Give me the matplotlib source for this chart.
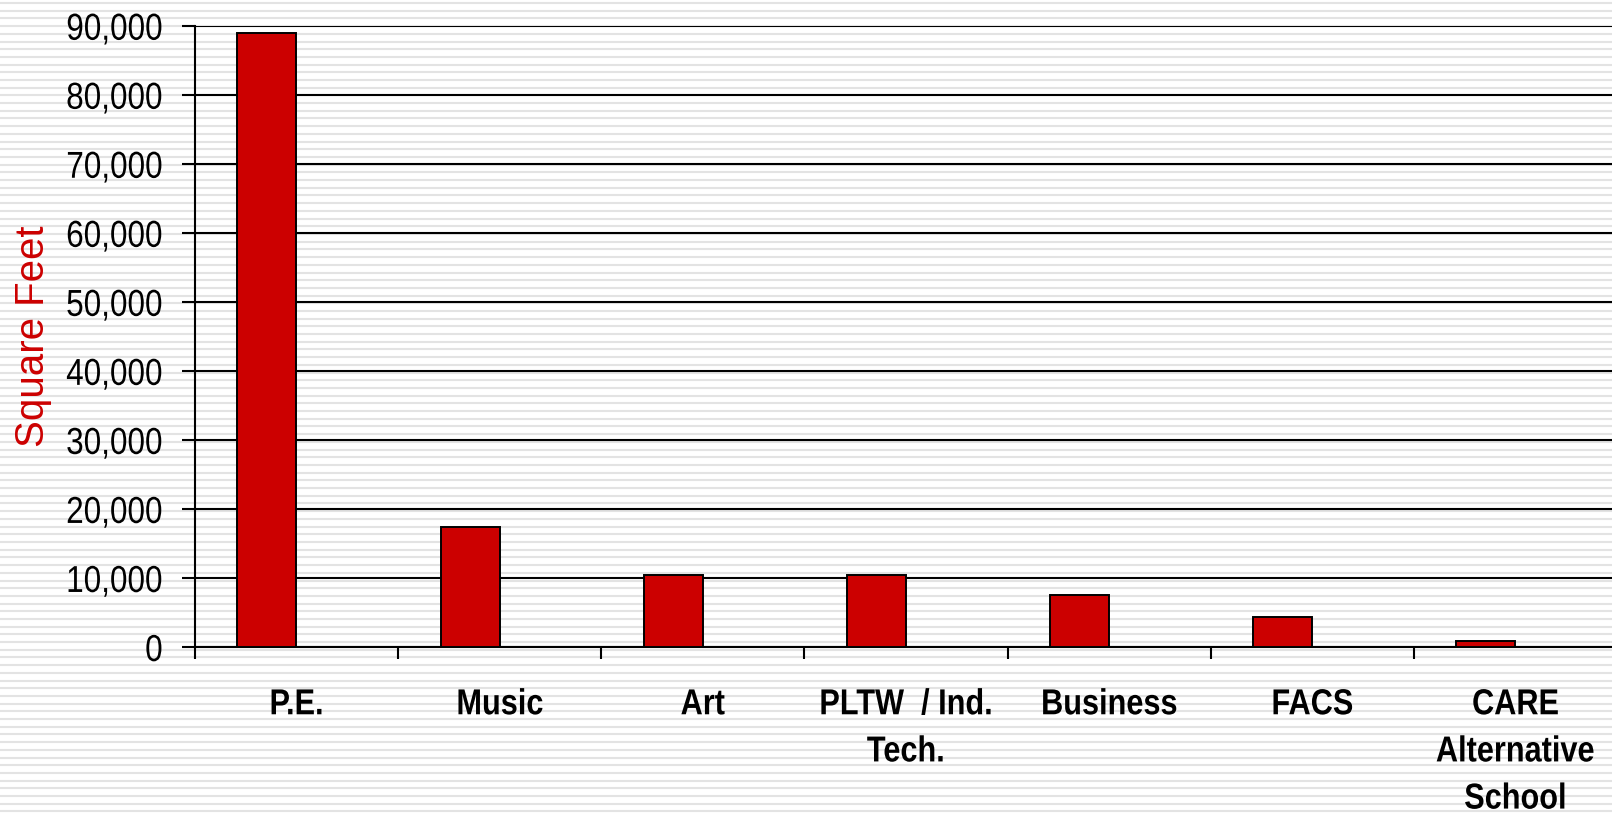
import numpy as np
import matplotlib
matplotlib.use("Agg")
import matplotlib.pyplot as plt
from matplotlib.patheffects import AbstractPathEffect
from matplotlib.transforms import Affine2D
from matplotlib.ticker import FuncFormatter, FixedLocator

categories = ["P.E.", "Music", "Art", "PLTW  / Ind.\nTech.", "Business", "FACS",
              "CARE\nAlternative\nSchool"]
square_feet = [88900, 17400, 10500, 10500, 7600, 4400, 900]
y_ticks = [0, 10000, 20000, 30000, 40000, 50000, 60000, 70000, 80000, 90000]


class Squeeze(AbstractPathEffect):
    """Narrow the text horizontally, keeping its right edge or centre in place."""

    def __init__(self, sx, align="center"):
        super().__init__()
        self.sx = sx
        self.align = align

    def draw_path(self, renderer, gc, tpath, affine, rgbFace=None):
        ext = tpath.get_extents(affine)
        px = ext.x1 if self.align == "right" else (ext.x0 + ext.x1) / 2
        squeeze = Affine2D().translate(-px, 0).scale(self.sx, 1).translate(px, 0)
        renderer.draw_path(gc, tpath, affine + squeeze, rgbFace)


W, H = 1612, 815
fig = plt.figure(figsize=(W / 100, H / 100), dpi=100)
fig.patch.set_facecolor("white")

# striped slide background
bg = fig.add_axes([0, 0, 1, 1], zorder=0)
bg.set_xlim(0, W)
bg.set_ylim(H, 0)
bg.axis("off")
for y in np.arange(3, H, 7.7):
    bg.axhline(y, color="#e3e3e3", lw=1.5)

ax = fig.add_axes([195 / W, 1 - 647 / H, (1617 - 195) / W, (647 - 25.7) / H], zorder=1)
ax.patch.set_alpha(0)

x = np.arange(len(categories))
ax.bar(x - 0.146, square_feet, width=0.29, color="#cc0000", edgecolor="black",
       linewidth=1.4, zorder=3)

ax.set_xlim(-0.5, len(categories) - 0.5)
ax.set_ylim(0, 90000)
ax.yaxis.set_major_locator(FixedLocator(y_ticks))
ax.yaxis.set_major_formatter(FuncFormatter(lambda v, p: f"{int(v):,}"))
ax.grid(axis="y", color="black", lw=1.5, zorder=1)
ax.set_axisbelow(True)

ax.set_xticks(x)
ax.set_xticklabels(categories, fontfamily="Liberation Sans", fontweight="bold",
                   fontsize=26, linespacing=1.45, va="top")
ax.xaxis.set_minor_locator(FixedLocator(np.arange(-0.5, len(categories), 1.0)))
ax.tick_params(axis="x", which="major", length=0, pad=29)
ax.tick_params(axis="x", which="minor", length=8.6, width=1.5, direction="out")
ax.tick_params(axis="y", length=9.4, width=1.5, pad=13.7, labelsize=27)
for lab in ax.get_xticklabels():
    lab.set_path_effects([Squeeze(0.85, "center")])
for lab in ax.get_yticklabels():
    lab.set_fontfamily("Liberation Sans")
    lab.set_path_effects([Squeeze(0.84, "right")])

for s in ["top", "right"]:
    ax.spines[s].set_visible(False)
ax.spines["left"].set_linewidth(1.5)
ax.spines["bottom"].set_linewidth(1.5)

ax.set_ylabel("Square Feet", color="#cc0000", fontsize=29, fontfamily="Liberation Sans")
ax.yaxis.set_label_coords((52 - 195) / (1617 - 195), 0.5)

fig.savefig("out.png", dpi=100)
